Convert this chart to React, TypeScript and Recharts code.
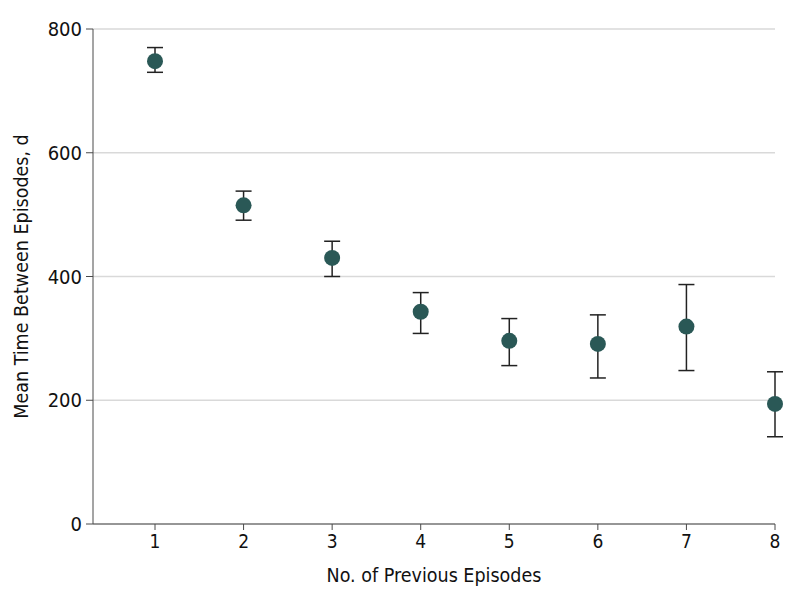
import { CartesianGrid, ErrorBar, Scatter, ScatterChart, XAxis, YAxis, Label } from 'recharts'

// Episode count vs mean time between episodes (days), with 95% CI bars.
const episodes = [1, 2, 3, 4, 5, 6, 7, 8]
const meanDays = [748, 515, 430, 343, 296, 291, 319, 194]
const lowerCI = [730, 491, 400, 308, 256, 236, 248, 141]
const upperCI = [770, 538, 457, 374, 332, 338, 387, 246]
const yTicks = [0, 200, 400, 600, 800]

const data = episodes.map((ep, i) => ({
  ep,
  mean: meanDays[i],
  err: [meanDays[i] - lowerCI[i], upperCI[i] - meanDays[i]],
}))

const FONT = "'DejaVu Sans Condensed', 'Noto Sans', sans-serif"
const AXIS = '#4a4a4a'
const DOT = '#2a5856'

export default function App() {
  return (
    <div style={{ position: 'absolute', left: 0, top: 0, width: 794, height: 609, background: '#fff' }}>
      <ScatterChart width={794} height={609} margin={{ top: 29, right: 19, left: 33, bottom: 25 }}>
        <CartesianGrid stroke="#d9d9d9" strokeWidth={1.5} vertical={false} />
        <XAxis
          type="number"
          dataKey="ep"
          domain={[0.3, 8]}
          ticks={episodes}
          height={60}
          stroke={AXIS}
          tickSize={6}
          tick={{ fill: '#111', fontSize: 19, fontFamily: FONT }}
          tickMargin={5}
        >
          <Label
            value="No. of Previous Episodes"
            position="insideBottom"
            offset={2}
            style={{ fill: '#111', fontSize: 19.5, fontFamily: FONT }}
          />
        </XAxis>
        <YAxis
          type="number"
          dataKey="mean"
          domain={[0, 800]}
          ticks={yTicks}
          width={60}
          stroke={AXIS}
          tickSize={7}
          tick={{ fill: '#111', fontSize: 20, fontFamily: FONT }}
          tickMargin={4}
        >
          <Label
            value="Mean Time Between Episodes, d"
            angle={-90}
            position="insideLeft"
            offset={-12}
            style={{ fill: '#111', fontSize: 19.5, fontFamily: FONT, textAnchor: 'middle' }}
          />
        </YAxis>
        <Scatter
          data={data}
          fill={DOT}
          isAnimationActive={false}
          shape={(p: any) => <circle cx={p.cx} cy={p.cy} r={8} fill={DOT} />}
        >
          <ErrorBar dataKey="err" direction="y" width={8} stroke="#222" strokeWidth={1.5} />
        </Scatter>
      </ScatterChart>
    </div>
  )
}
